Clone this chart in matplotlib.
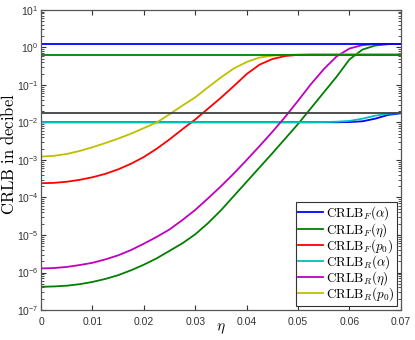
import numpy as np
import matplotlib
matplotlib.use("Agg")
import matplotlib.pyplot as plt
from matplotlib.ticker import LogLocator, NullFormatter

plt.rcParams['font.family'] = ['Liberation Sans', 'DejaVu Sans']
plt.rcParams['mathtext.fontset'] = 'cm'

# eta grid shared by the curves (step 0.0025)
eta = [0, 0.0025, 0.005, 0.0075, 0.01, 0.0125, 0.015, 0.0175, 0.02, 0.0225,
       0.025, 0.0275, 0.03, 0.0325, 0.035, 0.0375, 0.04, 0.0425, 0.045, 0.0475,
       0.05, 0.0525, 0.055, 0.0575, 0.06, 0.0625, 0.065, 0.0675, 0.07]

# log10 of the CRLB values
log_alpha_f = [-1.995] * 23 + [-1.995, -1.99, -1.97, -1.9, -1.8, -1.755]
log_alpha_r = [-1.995] * 22 + [-1.99, -1.98, -1.96, -1.9, -1.82, -1.77, -1.75]
log_eta_f = [-6.38, -6.37, -6.35, -6.31, -6.25, -6.17, -6.07, -5.94, -5.79, -5.62,
             -5.42, -5.22, -4.98, -4.68, -4.34, -3.96, -3.58, -3.20, -2.82, -2.43,
             -2.04, -1.62, -1.20, -0.78, -0.32, -0.06, 0.05, 0.085, 0.093]
log_eta_r = [-5.89, -5.88, -5.85, -5.80, -5.74, -5.65, -5.54, -5.40, -5.23, -5.05,
             -4.85, -4.60, -4.33, -4.02, -3.70, -3.36, -3.00, -2.63, -2.25, -1.85,
             -1.42, -0.98, -0.58, -0.24, -0.03, 0.06, 0.09, 0.093, 0.093]
log_p0_f = [-3.62, -3.61, -3.58, -3.53, -3.46, -3.37, -3.25, -3.10, -2.92, -2.70,
            -2.45, -2.18, -1.92, -1.63, -1.34, -1.03, -0.71, -0.46, -0.31, -0.23,
            -0.20, -0.19, -0.19, -0.19, -0.19, -0.19, -0.19, -0.19, -0.19]
log_p0_r = [-2.91, -2.89, -2.84, -2.76, -2.66, -2.55, -2.43, -2.30, -2.15, -2.0,
            -1.78, -1.55, -1.33, -1.06, -0.80, -0.56, -0.39, -0.27, -0.22, -0.20,
            -0.19, -0.19, -0.19, -0.19, -0.19, -0.19, -0.19, -0.19, -0.19]

# flat limits
eta_lim = [0, 0.07]
lim_alpha = [1.79e-2, 1.79e-2]
lim_eta = [1.24, 1.24]
lim_p0 = [6.45e-1, 6.45e-1]

x_ticks = [0, 0.01, 0.02, 0.03, 0.04, 0.05, 0.06, 0.07]
x_ticklabels = ['0', '0.01', '0.02', '0.03', '0.04', '0.05', '0.06', '0.07']
y_ticks = [1e-7, 1e-6, 1e-5, 1e-4, 1e-3, 1e-2, 1e-1, 1e0, 1e1]

labels = [r'$\mathrm{CRLB}_F(\alpha)$', r'$\mathrm{CRLB}_F(\eta)$', r'$\mathrm{CRLB}_F(p_0)$',
          r'$\mathrm{CRLB}_R(\alpha)$', r'$\mathrm{CRLB}_R(\eta)$', r'$\mathrm{CRLB}_R(p_0)$']
series = [log_alpha_f, log_eta_f, log_p0_f, log_alpha_r, log_eta_r, log_p0_r]
colors = ['#0000ff', '#008000', '#ff0000', '#00bfbf', '#bf00bf', '#bfbf00']

fig = plt.figure(figsize=(4.15, 3.4), dpi=100)
ax = fig.add_axes([0.099, 0.088, 0.867, 0.883])

lw = 1.3
for vals, c, lab in zip(series, colors, labels):
    ax.plot(eta, 10.0 ** np.array(vals), color=c, lw=lw, label=lab)
ax.plot(eta_lim, lim_alpha, color='#404040', lw=lw)
ax.plot(eta_lim, lim_eta, color='#0000ff', lw=lw)
ax.plot(eta_lim, lim_p0, color='#008000', lw=lw)

ax.set_yscale('log')
ax.set_xlim(0, 0.07)
ax.set_ylim(1e-7, 1e1)
ax.set_xticks(x_ticks)
ax.set_xticklabels(x_ticklabels)
ax.set_yticks(y_ticks)
ax.yaxis.set_minor_locator(LogLocator(base=10, subs=np.arange(2, 10), numticks=20))
ax.yaxis.set_minor_formatter(NullFormatter())
ax.tick_params(which='both', direction='in', top=True, right=True, labelsize=7.5,
               colors='#333333')
ax.tick_params(which='major', length=3.5)
ax.tick_params(which='minor', length=2)
ax.tick_params(axis='y', pad=2)
ax.tick_params(axis='x', pad=5)
for s in ax.spines.values():
    s.set_color('#555555')
    s.set_linewidth(0.9)

ax.set_ylabel(r'$\mathrm{CRLB\ in\ decibel}$', fontsize=12)
ax.yaxis.set_label_coords(-0.068, 0.52)
ax.set_xlabel(r'$\eta$', fontsize=11, va='top')
ax.xaxis.set_label_coords(0.5, -0.038)

leg = ax.legend(loc='lower right', fontsize=9.5, fancybox=False, framealpha=1,
                edgecolor='#333333', borderaxespad=0.3, handlelength=1.9,
                labelspacing=-0.12, borderpad=0.2, handletextpad=0.2)
leg.get_frame().set_linewidth(0.8)

fig.savefig('out.png', dpi=100)
